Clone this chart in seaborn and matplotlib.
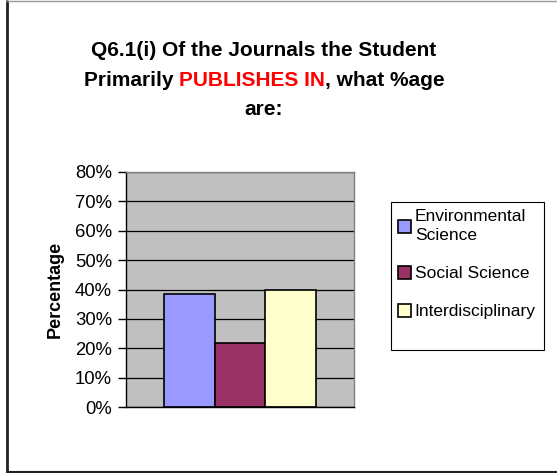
import matplotlib
matplotlib.use("Agg")
import matplotlib.pyplot as plt
import seaborn as sns
import pandas as pd
from matplotlib.lines import Line2D
from matplotlib.patches import Rectangle

# Data
series = ["Environmental\nScience", "Social Science", "Interdisciplinary"]
values = [38.3, 21.7, 40.0]
colors = ["#9999FF", "#993366", "#FFFFCC"]
yticks = [0, 10, 20, 30, 40, 50, 60, 70, 80]
ytick_labels = [f"{v}%" for v in yticks]
title_line1 = "Q6.1(i) Of the Journals the Student"
title_line2 = ["Primarily ", "PUBLISHES IN", ", what %age"]
title_line2_colors = ["black", "#FF0000", "black"]
title_line3 = "are:"

sns.set_theme(style="white")
plt.rcParams["font.family"] = ["Liberation Sans", "DejaVu Sans"]
plt.rcParams["text.color"] = "black"
plt.rcParams["axes.labelcolor"] = "black"
plt.rcParams["ytick.color"] = "black"
plt.rcParams["ytick.labelcolor"] = "black"

W, H = 557, 473
fig = plt.figure(figsize=(W / 100, H / 100), dpi=100)
fig.patch.set_facecolor("white")

# Outer chart frame
fig.add_artist(Line2D([6.5 / W, 6.5 / W], [1 - 1.5 / H, 1.5 / H], transform=fig.transFigure,
                      color="#222222", lw=2))
fig.add_artist(Line2D([6.5 / W, 1.0], [1 - 1.5 / H, 1 - 1.5 / H], transform=fig.transFigure,
                      color="#999999", lw=1))
fig.add_artist(Line2D([6.5 / W, 1.0], [1.5 / H, 1.5 / H], transform=fig.transFigure,
                      color="#222222", lw=1.5))

ax = fig.add_axes([126 / W, 66 / H, 228 / W, 235 / H])
df = pd.DataFrame({"group": [""] * len(series), "series": series, "value": values})
sns.barplot(data=df, x="group", y="value", hue="series", hue_order=series,
            palette=colors, width=0.667, edgecolor="black", linewidth=1.2,
            saturation=1, ax=ax)

ax.set_ylim(0, 80)
ax.set_yticks(yticks)
ax.set_yticklabels(ytick_labels, fontsize=13.3, color="black")
ax.set_xticks([])
ax.set_xlabel("")
ax.set_ylabel("Percentage", fontsize=13, fontweight="bold", labelpad=8, color="black")
ax.set_facecolor("#C0C0C0")
ax.yaxis.grid(True, color="black", lw=0.9)
ax.set_axisbelow(True)
ax.tick_params(axis="y", which="major", direction="out", length=6, width=1,
               color="black", pad=4, left=True)
for side in ("left", "bottom"):
    ax.spines[side].set_color("black")
    ax.spines[side].set_linewidth(1)
for side in ("top", "right"):
    ax.spines[side].set_color("#808080")
    ax.spines[side].set_linewidth(1)

# Legend box and entries
fig.add_artist(Rectangle((391 / W, 1 - 350 / H), 153 / W, 148 / H,
                         transform=fig.transFigure, facecolor="white",
                         edgecolor="black", lw=0.8, zorder=1))
handles, labels = ax.get_legend_handles_labels()
ax.get_legend().remove()
leg = fig.legend(handles, labels, loc="upper left",
                 bbox_to_anchor=(393 / W, 1 - 204 / H), frameon=False,
                 fontsize=12.5, handlelength=0.75, handleheight=0.75,
                 handletextpad=0.2, borderpad=0.3, labelspacing=1.3,
                 borderaxespad=0)
leg.set_zorder(2)
for t in leg.get_texts():
    t.set_linespacing(1.35)
    t.set_color("black")

# Title
tkw = dict(fontsize=15, fontweight="bold", va="baseline")
cx = 264 / W
fig.text(cx, 1 - 56.5 / H, title_line1, ha="center", color="black", **tkw)
fig.text(cx, 1 - 115 / H, title_line3, ha="center", color="black", **tkw)

parts = [fig.text(0, 1 - 86.5 / H, s, ha="left", color=c, **tkw)
         for s, c in zip(title_line2, title_line2_colors)]
fig.canvas.draw()
r = fig.canvas.get_renderer()
widths = [p.get_window_extent(r).width for p in parts]
x0 = cx * W - sum(widths) / 2
for p, w in zip(parts, widths):
    p.set_x(x0 / W)
    x0 += w

fig.savefig("out.png", dpi=100)
